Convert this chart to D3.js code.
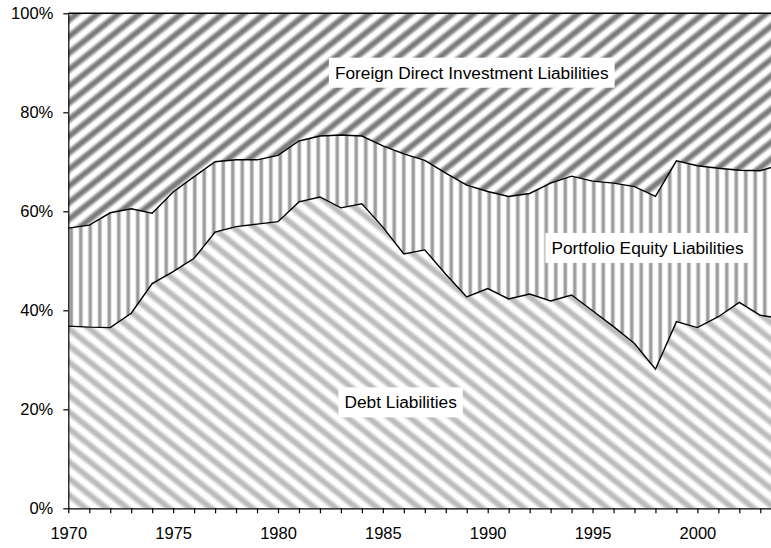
<!DOCTYPE html>
<html>
<head>
<meta charset="utf-8">
<script src="https://cdn.jsdelivr.net/npm/d3@7"></script>
<style>
  body { margin: 0; background: #fff; }
  svg { display: block; font-family: "Liberation Sans", Arial, sans-serif; }
</style>
</head>
<body>
<div id="chart"></div>
<script>
// Years on the x axis
const years = [1970, 1971, 1972, 1973, 1974, 1975, 1976, 1977, 1978, 1979,
  1980, 1981, 1982, 1983, 1984, 1985, 1986, 1987, 1988, 1989,
  1990, 1991, 1992, 1993, 1994, 1995, 1996, 1997, 1998, 1999,
  2000, 2001, 2002, 2003, 2004];

// Shares of total liabilities (%)
const debt = [36.8, 36.6, 36.5, 39.4, 45.4, 47.8, 50.5, 55.8, 56.9, 57.4,
  57.9, 61.9, 62.9, 60.7, 61.5, 56.8, 51.4, 52.2, 47.3, 42.7,
  44.4, 42.3, 43.3, 41.9, 43.1, 39.9, 36.7, 33.3, 28.1, 37.7,
  36.5, 38.7, 41.6, 39.0, 38.3];
const equity = [19.8, 20.6, 23.2, 21.1, 14.2, 16.1, 16.5, 14.2, 13.5, 13.0,
  13.4, 12.3, 12.3, 14.7, 13.7, 16.4, 20.2, 18.1, 20.4, 22.6,
  19.6, 20.7, 20.3, 23.8, 24.0, 26.2, 29.0, 31.7, 34.9, 32.5,
  32.7, 30.0, 26.7, 29.2, 31.2];

const yTicks = [0, 20, 40, 60, 80, 100];
const xLabelYears = [1970, 1975, 1980, 1985, 1990, 1995, 2000];
const seriesKeys = ["debt", "equity", "fdi"];
const seriesNames = ["Debt Liabilities", "Portfolio Equity Liabilities", "Foreign Direct Investment Liabilities"];
// label centres in data units (year, %)
const labelYears = [1985.85, 1997.62, 1989.24];
const labelValues = [21.4, 52.6, 88.0];

const rows = years.map((y, i) => ({
  year: y,
  debt: debt[i],
  equity: equity[i],
  fdi: 100 - debt[i] - equity[i]
}));

const fullWidth = 771, fullHeight = 548;
const plotLeft = 68.3, plotTop = 13.3, plotHeight = 495, yearStep = 20.97;

const container = d3.select("#chart");
container.selectAll("svg").remove();

const svg = container.append("svg")
  .attr("width", fullWidth)
  .attr("height", fullHeight);

const xScale = d3.scaleLinear()
  .domain([1970, 2005])
  .range([plotLeft, plotLeft + 35 * yearStep]);
const yScale = d3.scaleLinear()
  .domain([0, 100])
  .range([plotTop + plotHeight, plotTop]);

// Hatch patterns
const defs = svg.append("defs");

function stripePattern(id, size, angle, color, frac) {
  const gid = id + "-grad";
  const g = defs.append("linearGradient")
    .attr("id", gid)
    .attr("x1", 0).attr("x2", 1).attr("y1", 0).attr("y2", 0);
  const a = (1 - frac) / 2;
  g.append("stop").attr("offset", 0).attr("stop-color", "#fff");
  g.append("stop").attr("offset", a * 0.7).attr("stop-color", "#fff");
  g.append("stop").attr("offset", 0.4).attr("stop-color", color);
  g.append("stop").attr("offset", 0.6).attr("stop-color", color);
  g.append("stop").attr("offset", 1 - a * 0.7).attr("stop-color", "#fff");
  g.append("stop").attr("offset", 1).attr("stop-color", "#fff");
  defs.append("pattern")
    .attr("id", id)
    .attr("patternUnits", "userSpaceOnUse")
    .attr("width", size)
    .attr("height", size)
    .attr("patternTransform", `rotate(${angle})`)
    .append("rect")
    .attr("width", size)
    .attr("height", size)
    .attr("fill", `url(#${gid})`);
}

stripePattern("pat-fdi", 13, 51.5, "#7c7c7c", 0.6);
stripePattern("pat-equity", 9.5, 0, "#9a9a9a", 0.35);
stripePattern("pat-debt", 13, -51.5, "#bcbcbc", 0.6);

const stack = d3.stack().keys(seriesKeys);
const stacked = stack(rows);

const area = d3.area()
  .x(d => xScale(d.data.year))
  .y0(d => yScale(d[0]))
  .y1(d => yScale(d[1]));

const fills = { debt: "url(#pat-debt)", equity: "url(#pat-equity)", fdi: "url(#pat-fdi)" };

svg.append("g")
  .selectAll("path")
  .data(stacked)
  .enter()
  .append("path")
  .attr("d", area)
  .attr("fill", d => fills[d.key]);

// Boundary lines
const line = d3.line()
  .x(d => xScale(d.data.year))
  .y(d => yScale(d[1]));

svg.append("g")
  .selectAll("path")
  .data(stacked)
  .enter()
  .append("path")
  .attr("d", line)
  .attr("fill", "none")
  .attr("stroke", "#000")
  .attr("stroke-width", 1.4);

// Axes
const yAxis = d3.axisLeft(yScale)
  .tickValues(yTicks)
  .tickFormat(d => d + "%")
  .tickSize(5)
  .tickSizeOuter(0)
  .tickPadding(10);

const gy = svg.append("g")
  .attr("transform", `translate(${plotLeft},0)`)
  .call(yAxis);

const xAxis = d3.axisBottom(xScale)
  .tickValues(years)
  .tickFormat(d => xLabelYears.includes(d) ? d : "")
  .tickSize(5)
  .tickSizeOuter(0)
  .tickPadding(14);

const gx = svg.append("g")
  .attr("transform", `translate(0,${plotTop + plotHeight})`)
  .call(xAxis);

[gx, gy].forEach(g => {
  g.attr("font-family", null).attr("font-size", null);
  g.selectAll("path, line").attr("stroke", "#000").attr("stroke-width", 1.2);
  g.selectAll("text").attr("fill", "#000").style("font-size", "16.5px");
});

// Series labels on white boxes
const labelG = svg.append("g");
seriesNames.forEach((name, i) => {
  const cx = xScale(labelYears[i]);
  const cy = yScale(labelValues[i]);
  const g = labelG.append("g");
  const rect = g.append("rect").attr("fill", "#fff");
  const t = g.append("text")
    .attr("x", cx)
    .attr("y", cy)
    .attr("text-anchor", "middle")
    .attr("dy", "0.35em")
    .style("font-size", "17.3px")
    .attr("fill", "#000")
    .text(name);
  const w = t.node().getComputedTextLength();
  rect.attr("x", cx - w / 2 - 6)
    .attr("y", cy - 15)
    .attr("width", w + 12)
    .attr("height", 30);
});
</script>
</body>
</html>
